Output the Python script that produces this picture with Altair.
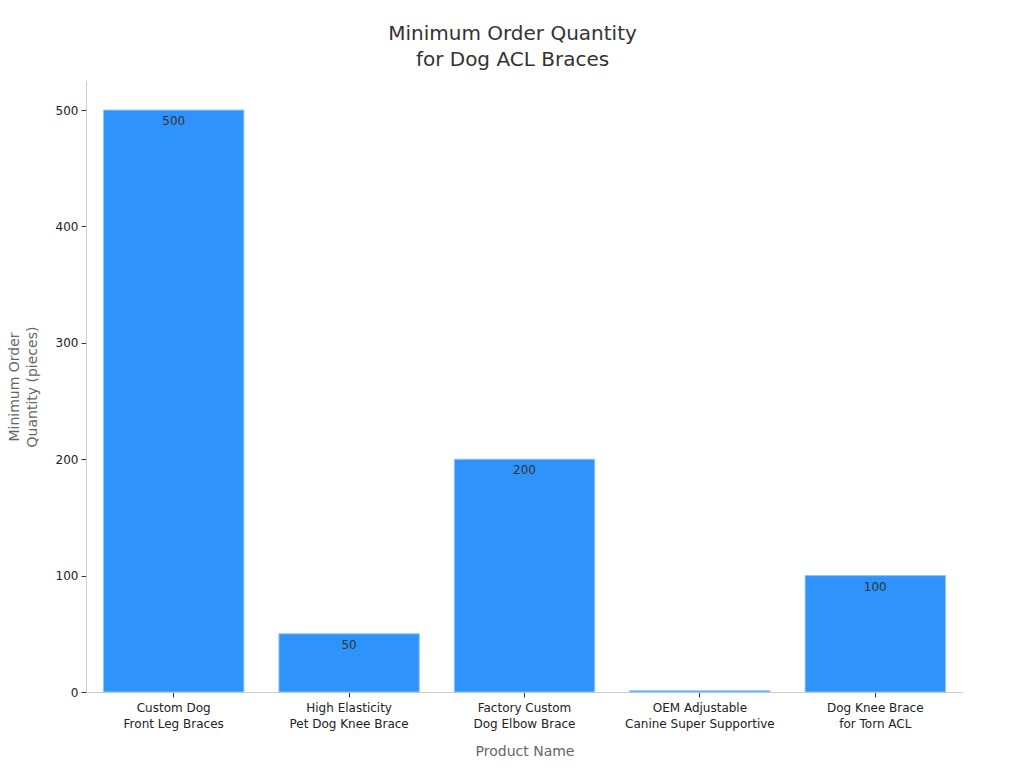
import altair as alt
import pandas as pd

products = [
    "Custom Dog\nFront Leg Braces",
    "High Elasticity\nPet Dog Knee Brace",
    "Factory Custom\nDog Elbow Brace",
    "OEM Adjustable\nCanine Super Supportive",
    "Dog Knee Brace\nfor Torn ACL",
]
moq = [500, 50, 200, 1, 100]
shown_label = [True, True, True, False, True]

df = pd.DataFrame({"product": products, "moq": moq, "show": shown_label})

FONT = "DejaVu Sans"

base = alt.Chart(df).encode(
    x=alt.X(
        "product:N",
        sort=products,
        title="Product Name",
        scale=alt.Scale(paddingInner=0.2, paddingOuter=0.1),
        axis=alt.Axis(
            labelAngle=0,
            labelExpr="split(datum.label, '\\n')",
            labelFontSize=12,
            labelColor="#222222",
            labelLineHeight=16,
            labelPadding=5,
            titleFontSize=14,
            titleColor="#666666",
            titleFontWeight="normal",
            titlePadding=15,
            domainColor="#cccccc",
            tickColor="#333333",
            tickSize=5,
        ),
    ),
    y=alt.Y(
        "moq:Q",
        title=["Minimum Order", "Quantity (pieces)"],
        scale=alt.Scale(domain=[0, 525], nice=False),
        axis=alt.Axis(
            values=[0, 100, 200, 300, 400, 500],
            grid=False,
            labelFontSize=12,
            labelColor="#222222",
            labelPadding=3,
            titleFontSize=14,
            titleColor="#666666",
            titleFontWeight="normal",
            titlePadding=16,
            titleLineHeight=18,
            domainColor="#cccccc",
            tickColor="#333333",
            tickSize=5,
        ),
    ),
)

bars = base.mark_bar(color="#2E93FA", stroke="#8EC3F8", strokeWidth=1)

labels = base.transform_filter("datum.show").mark_text(
    baseline="top", dy=6, fontSize=12, color="#333333", font=FONT
).encode(text="moq:Q")

chart = (
    alt.layer(bars, labels)
    .properties(
        width=877,
        height=611,
        title=alt.TitleParams(
            text=["Minimum Order Quantity", "for Dog ACL Braces"],
            fontSize=20,
            font=FONT,
            fontWeight="normal",
            color="#333333",
            lineHeight=26,
            offset=11,
            dx=-12,
            anchor="middle",
        ),
        autosize=alt.AutoSizeParams(type="none"),
        padding={"left": 86, "top": 81, "right": 61, "bottom": 76},
    )
    .configure(font=FONT)
    .configure_view(stroke=None)
)

chart.save("out.html", embed_options={"renderer": "svg", "actions": False})
